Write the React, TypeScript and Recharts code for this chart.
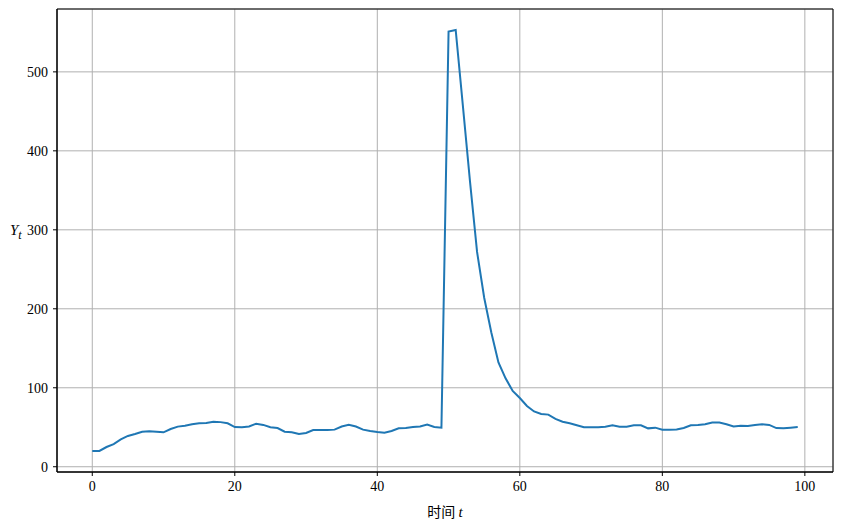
import { LineChart, Line, XAxis, YAxis, CartesianGrid, ReferenceArea } from "recharts";

// Y_t, t = 0..99
const yValues = [
  20, 20, 25, 28.7, 34.7, 39, 41.4, 44.4, 44.8, 44.4,
  43.6, 47.8, 50.8, 52, 53.7, 55, 55.5, 57, 56.5, 55,
  50.3, 50, 51, 54.5, 53, 50, 49, 44.4, 43.6, 41.4,
  42.7, 46.5, 46.5, 46.5, 47, 51, 53, 51, 47, 45.3,
  44, 43, 45.3, 48.6, 49, 50.3, 51, 53.3, 50.3, 49.5,
  551, 553, 458, 362, 272, 214, 170, 132, 112, 96,
  87, 77, 70, 66.8, 66, 60.5, 57, 55, 52.5, 50,
  50, 50, 50.7, 52.5, 50.7, 50.7, 52.5, 52.5, 48.6, 49.5,
  46.8, 47, 47.2, 49, 52.5, 53, 53.8, 56, 56, 53.7,
  51, 52, 51.5, 53, 53.7, 53, 49, 48.6, 49.5, 50.3,
];
const times = yValues.map((_, i) => i);
const xTicks = [0, 20, 40, 60, 80, 100];
const yTicks = [0, 100, 200, 300, 400, 500];

const data = times.map((t, i) => ({ t, y: yValues[i] }));

const X_DOMAIN: [number, number] = [-4.95, 103.95];
const Y_DOMAIN: [number, number] = [-6.65, 579.6];

const tickStyle = { fontFamily: "'Liberation Serif', serif", fontSize: 14, fill: "#000" };

export default function App() {
  return (
    <div style={{ position: "absolute", left: 0, top: 0, width: 841, height: 529, background: "#fff" }}>
      <LineChart width={841} height={529} data={data} margin={{ top: 9, right: 8, bottom: 27, left: 10 }}>
        <CartesianGrid stroke="#b0b0b0" strokeWidth={1} />
        <XAxis
          dataKey="t"
          type="number"
          domain={X_DOMAIN}
          ticks={xTicks}
          allowDataOverflow
          height={30}
          tickSize={4}
          tickMargin={5}
          tick={tickStyle}
          stroke="#000"
          tickLine={{ stroke: "#000" }}
        />
        <YAxis
          type="number"
          domain={Y_DOMAIN}
          ticks={yTicks}
          allowDataOverflow
          width={47}
          tickSize={4}
          tickMargin={5}
          tick={tickStyle}
          stroke="#000"
          tickLine={{ stroke: "#000" }}
        />
        <ReferenceArea
          x1={X_DOMAIN[0]}
          x2={X_DOMAIN[1]}
          y1={Y_DOMAIN[0]}
          y2={Y_DOMAIN[1]}
          fill="none"
          stroke="#000"
          strokeWidth={1}
          ifOverflow="visible"
        />
        <Line
          dataKey="y"
          type="linear"
          stroke="#1f77b4"
          strokeWidth={2}
          dot={false}
          isAnimationActive={false}
        />
      </LineChart>
      <div
        style={{
          position: "absolute",
          left: 10,
          top: 222,
          fontFamily: "'Liberation Serif', serif",
          fontSize: 15,
          fontStyle: "italic",
          lineHeight: "16px",
        }}
      >
        Y<sub style={{ fontSize: 12, verticalAlign: "-4px" }}>t</sub>
      </div>
      <div
        style={{
          position: "absolute",
          left: 0,
          width: 890,
          top: 502,
          textAlign: "center",
          fontSize: 14,
          lineHeight: "18px",
          fontFamily: "'Noto Sans CJK SC', sans-serif",
        }}
      >
        时间 <span style={{ fontFamily: "'Liberation Serif', serif", fontStyle: "italic", fontSize: 15 }}>t</span>
      </div>
    </div>
  );
}
